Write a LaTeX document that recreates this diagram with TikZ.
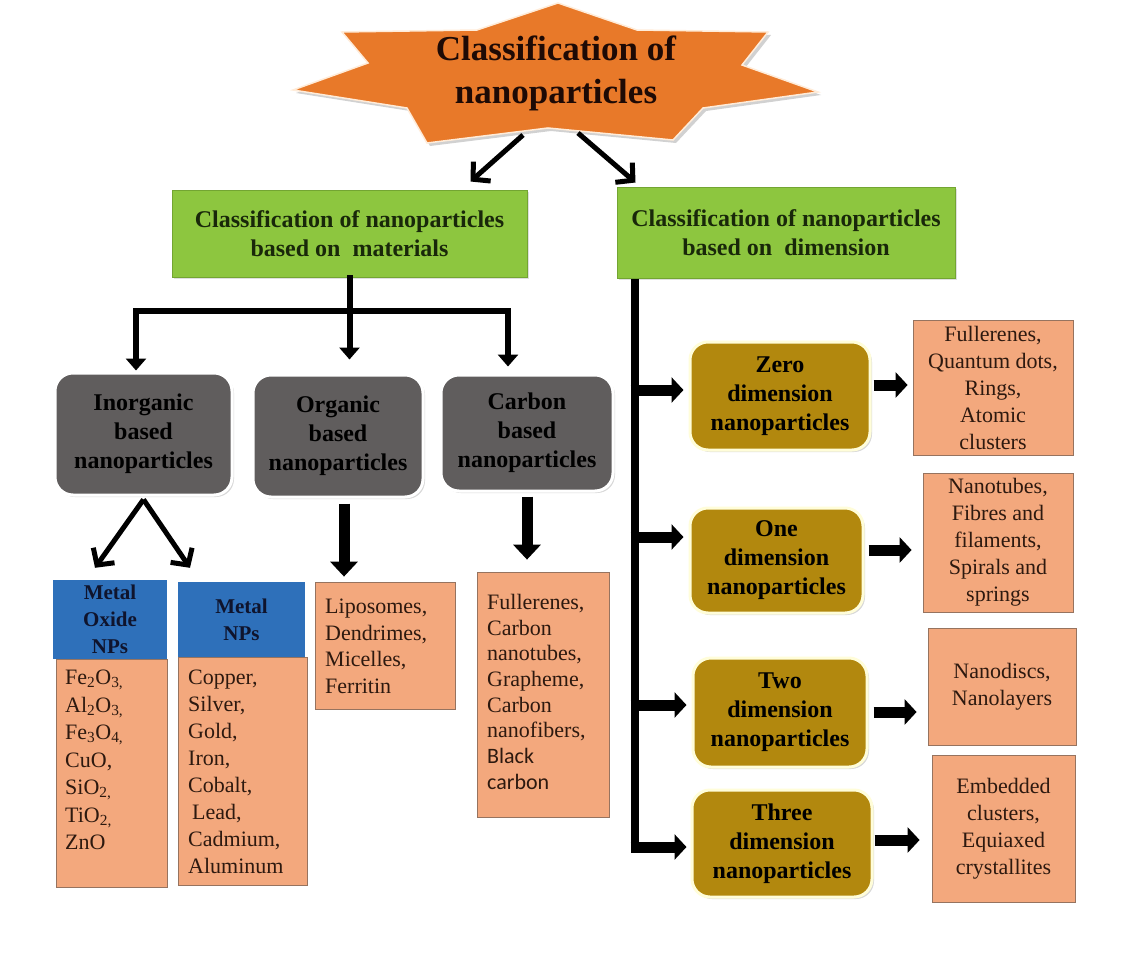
\documentclass[tikz,border=0pt]{standalone}
\usepackage{fontspec}
\setmainfont{Liberation Serif}
\newfontfamily\calib{Carlito}
\usetikzlibrary{arrows.meta,calc,shadows}
\definecolor{starorange}{RGB}{232,121,41}
\definecolor{boxgreen}{RGB}{141,198,63}
\definecolor{greenedge}{RGB}{115,165,50}
\definecolor{greentext}{RGB}{25,40,10}
\definecolor{boxgray}{RGB}{96,93,93}
\definecolor{boxgold}{RGB}{178,136,14}
\definecolor{boxsalmon}{RGB}{243,168,125}
\definecolor{salmonedge}{RGB}{150,115,95}
\definecolor{boxblue}{RGB}{46,112,186}
\definecolor{headtext}{RGB}{15,20,45}
\definecolor{listtext}{RGB}{45,25,15}
\definecolor{titletext}{RGB}{30,10,5}
\begin{document}
\begin{tikzpicture}[x=1pt,y=-1pt,
  bfnode/.style={font=\bfseries\fontsize{24}{29}\selectfont, align=center, inner sep=0pt},
  greenbox/.style={bfnode, fill=boxgreen, draw=greenedge, line width=1pt, text=greentext,
    drop shadow={opacity=0.25,shadow xshift=2pt,shadow yshift=-2pt}},
  graybox/.style={bfnode, fill=boxgray, draw=white, line width=3pt, rounded corners=18pt, text=black,
    drop shadow={opacity=0.3,shadow xshift=2pt,shadow yshift=-2pt}},
  goldbox/.style={bfnode, fill=boxgold, draw=white!85!yellow, line width=3pt, rounded corners=18pt, text=black,
    drop shadow={opacity=0.3,shadow xshift=2pt,shadow yshift=-2pt}},
  salmonbox/.style={fill=boxsalmon, draw=salmonedge, line width=0.8pt, inner sep=0pt,
    font=\fontsize{22}{27}\selectfont, align=center, text=listtext},
  bluebox/.style={fill=boxblue, inner sep=0pt, font=\bfseries\fontsize{21}{27}\selectfont,
    align=center, text=headtext},
  listtxt/.style={inner sep=0pt, align=left, text=listtext},
  treeline/.style={line width=6pt, draw=black, line cap=rect},
  treearrow/.style={line width=6pt, draw=black, -{Triangle[width=20pt,length=12pt]}},
  blockarrow/.style={line width=11pt, draw=black, -{Triangle[width=25pt,length=12pt]}},
  downarrow/.style={line width=11pt, draw=black, -{Triangle[width=27pt,length=15pt]}},
  vline/.style={line width=8pt, draw=black},
  barbarrow/.style={line width=5pt, draw=black, -{Straight Barb[width=26pt,length=12pt]}}
]
\useasboundingbox (0,0) rectangle (1125,964);
\fill[white] (0,0) rectangle (1125,964);

% star
\fill[black, opacity=0.18] (561,6) -- (640,33) -- (771,35) -- (745,68) -- (821,95) -- (706,111) -- (676,143) -- (551,131) -- (430,146) -- (410,111) -- (296,93) -- (371,66) -- (345,35) -- (480,33) -- cycle;
\filldraw[fill=starorange, draw=white!85!orange, line width=1.5pt]
  (558,3) -- (637,30) -- (768,32) -- (742,65) -- (818,92) -- (703,108) -- (673,140)
  -- (548,128) -- (427,143) -- (407,108) -- (293,90) -- (368,63) -- (342,32) -- (477,30) -- cycle;
\node[inner sep=0pt, align=center, text=titletext, font=\bfseries\fontsize{35}{43}\selectfont] (title) at (556,73) {Classification of\\nanoparticles};

% green boxes
\node[greenbox, minimum width=355, minimum height=87] (gm) at (349.5,233.5) {Classification of nanoparticles\\based on \ materials};
\node[greenbox, minimum width=338, minimum height=91] (gd) at (786,232.5) {Classification of nanoparticles\\based on \ dimension};

% gray boxes
\node[graybox, minimum width=177, minimum height=122] (ino) at (143.5,434) {Inorganic\\based\\nanoparticles};
\node[graybox, minimum width=170, minimum height=122] (org) at (338,436) {Organic\\based\\nanoparticles};
\node[graybox, minimum width=172, minimum height=116] (carb) at (527,433) {Carbon\\based\\nanoparticles};

% metal oxide
\node[bluebox, minimum width=114, minimum height=79] (mo) at (110,619.5) {Metal\\Oxide\\NPs};
\node[salmonbox, minimum width=111, minimum height=228] (mob) at (111.5,773) {};
\node[listtxt, anchor=north west, font=\fontsize{22}{27.5}\selectfont] (mot) at (65,670) {Fe\textsubscript{2}O\textsubscript{3,}\\Al\textsubscript{2}O\textsubscript{3,}\\Fe\textsubscript{3}O\textsubscript{4,}\\CuO,\\SiO\textsubscript{2,}\\TiO\textsubscript{2,}\\ZnO};

% metal NPs
\node[bluebox, minimum width=127, minimum height=75] (mn) at (241.5,619.5) {Metal\\NPs};
\node[salmonbox, minimum width=129, minimum height=228] (mnb) at (242.5,771) {};
\node[listtxt, anchor=north west, font=\fontsize{22}{27}\selectfont] (mnt) at (188,670) {Copper,\\Silver,\\Gold,\\Iron,\\Cobalt,\\\hspace*{4pt}Lead,\\Cadmium,\\Aluminum};

% organic list
\node[salmonbox, minimum width=140, minimum height=127] (lipo) at (385,645.5) {};
\node[listtxt, anchor=north west, font=\fontsize{22}{26.5}\selectfont] (lipot) at (325,599) {Liposomes,\\Dendrimes,\\Micelles,\\Ferritin};

% carbon list
\node[salmonbox, minimum width=132, minimum height=245] (cl) at (543,694.5) {};
\node[listtxt, anchor=north west, font=\fontsize{22}{25.7}\selectfont] (clt) at (487,594) {Fullerenes,\\Carbon\\nanotubes,\\Grapheme,\\Carbon\\nanofibers,\\{\calib Black}\\{\calib carbon}};

% dimension boxes
\node[goldbox, minimum width=180, minimum height=108] (zero) at (780,396) {Zero\\dimension\\nanoparticles};
\node[goldbox, minimum width=173, minimum height=105] (one) at (776.5,560.5) {One\\dimension\\nanoparticles};
\node[goldbox, minimum width=174, minimum height=109] (two) at (780,712.5) {Two\\dimension\\nanoparticles};
\node[goldbox, minimum width=180, minimum height=107] (three) at (782,843.5) {Three\\dimension\\nanoparticles};

% description boxes
\node[salmonbox, minimum width=160, minimum height=135] (zd) at (993,387.5) {Fullerenes,\\Quantum dots,\\Rings,\\Atomic\\clusters};
\node[salmonbox, minimum width=150, minimum height=139] (od) at (998,542.5) {Nanotubes,\\Fibres and\\filaments,\\Spirals and\\springs};
\node[salmonbox, minimum width=148, minimum height=117] (td) at (1002,686.5) {Nanodiscs,\\Nanolayers};
\node[salmonbox, minimum width=143, minimum height=147] (thd) at (1003.5,828.5) {Embedded\\clusters,\\Equiaxed\\crystallites};

% star arrows
\coordinate (sl) at ([xshift=-33pt]title.south |- 0,135);
\coordinate (sr) at ([xshift=22pt]title.south |- 0,133);
\draw[barbarrow] (sl) -- ($(gm.north east)+(-57,-8)$);
\draw[barbarrow] (sr) -- ($(gd.north west)+(19,-4)$);

% material tree
\coordinate (bar) at (gm.south |- 0,311);
\coordinate (barL) at (136,311);
\coordinate (barR) at (508,311);
\draw[treeline] (gm.south) -- (bar);
\draw[treeline] (barL) -- (barR);
\draw[treearrow, shorten >=1pt] (barL) -- (barL |- ino.north);
\draw[treearrow, shorten >=14pt] (bar) -- (bar |- org.north);
\draw[treearrow, shorten >=7pt] (barR) -- (barR |- carb.north);

% inorganic split
\coordinate (iv) at ([yshift=-3pt]ino.south);
\draw[barbarrow] (iv) -- ($(mo.north)+(-15,-12)$);
\draw[barbarrow] (iv) -- ($(mn.north)+(-51.5,-14)$);

% organic / carbon down arrows
\coordinate (o1) at ([xshift=6pt,yshift=-5pt]org.south);
\draw[downarrow, shorten >=5pt] (o1) -- (o1 |- lipo.north);
\coordinate (c1) at ([yshift=-4pt]carb.south);
\draw[downarrow, shorten >=12pt] (c1) -- (c1 |- cl.north);

% dimension tree
\coordinate (vtop) at ([xshift=18pt]gd.south west);
\coordinate (vend) at (vtop |- 0,853);
\draw[vline] (vtop) -- (vend);
\coordinate (b1) at (vtop |- 0,390);
\coordinate (b2) at (vtop |- 0,537);
\coordinate (b3) at (vtop |- 0,705);
\coordinate (b4) at (vtop |- 0,847);
\draw[blockarrow, shorten >=5pt] ([xshift=-4pt]b1) -- (b1 -| zero.west);
\draw[blockarrow, shorten >=5pt] ([xshift=-4pt]b2) -- (b2 -| one.west);
\draw[blockarrow, shorten >=5pt] ([xshift=-4pt]b3) -- (b3 -| two.west);
\draw[blockarrow, shorten >=4pt] ([xshift=-4pt]b4) -- (b4 -| three.west);

% dimension -> description
\coordinate (z1) at ([xshift=2pt,yshift=11pt]zero.east);
\draw[blockarrow, shorten >=5pt] (z1) -- (z1 -| zd.west);
\coordinate (o2) at ([xshift=4pt,yshift=10.5pt]one.east);
\draw[blockarrow, shorten >=11pt] (o2) -- (o2 -| od.west);
\coordinate (t1) at ([xshift=5pt,yshift=0.5pt]two.east);
\draw[blockarrow, shorten >=11pt] (t1) -- (t1 -| td.west);
\coordinate (h1) at ([xshift=1pt,yshift=3.5pt]three.east);
\draw[blockarrow, shorten >=12pt] (h1) -- (h1 -| thd.west);
\end{tikzpicture}
\end{document}
